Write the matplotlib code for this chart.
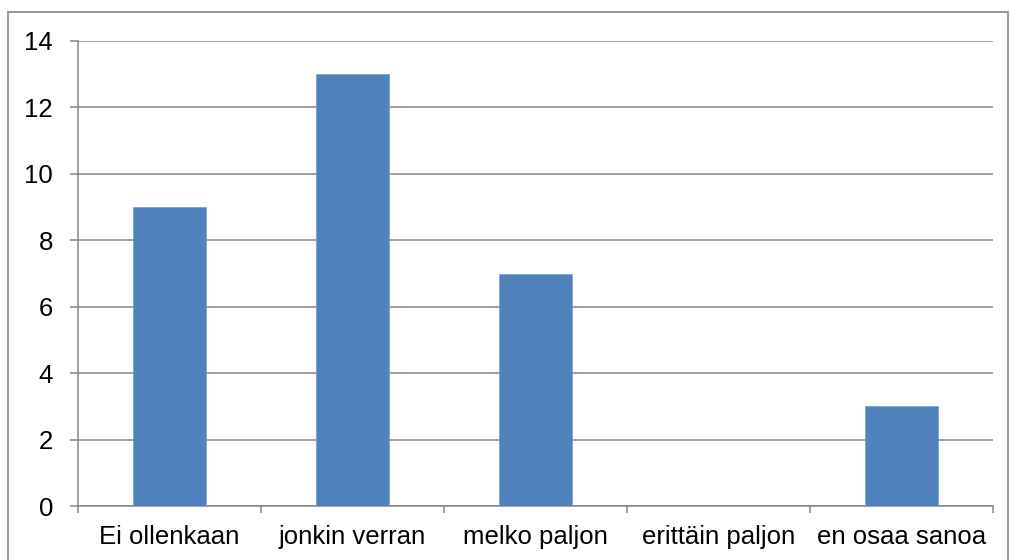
import numpy as np
import matplotlib
matplotlib.use('Agg')
from matplotlib import pyplot as plt
from matplotlib.patches import Rectangle

# Vastaukset ja lukumaarat
kategoriat = ['Ei ollenkaan', 'jonkin verran', 'melko paljon', 'erittäin paljon', 'en osaa sanoa']
lukumaarat = [9, 13, 7, 0, 3]
y_tikit = [0, 2, 4, 6, 8, 10, 12, 14]

sininen = '#4F81BD'
harmaa = '#868686'

plt.rcParams['font.family'] = ['Liberation Sans', 'DejaVu Sans']

W, H = 1010, 560
fig = plt.figure(figsize=(W / 100, H / 100), dpi=100)
ax = fig.add_axes([78 / W, (H - 506) / H, (993 - 78) / W, (506 - 41) / H])

# Kaavion ulkoreunus
fig.patches.append(Rectangle((8 / W, -0.1), 1000 / W, 1.1 - 12 / H,
                             transform=fig.transFigure, fill=False,
                             edgecolor=harmaa, linewidth=1.2))

x = np.arange(len(kategoriat))
ax.bar(x, lukumaarat, width=0.4, color=sininen, edgecolor='#7FA1CE',
       linewidth=0.6, zorder=3)

ax.set_xlim(-0.5, len(kategoriat) - 0.5)
ax.set_ylim(0, 14)
ax.set_yticks(y_tikit)
ax.set_yticklabels([str(v) for v in y_tikit], fontsize=18.5)
ax.yaxis.grid(True, color=harmaa, linewidth=1.1, zorder=0)
ax.set_axisbelow(True)

# Luokkien rajat alareunaan
ax.set_xticks(np.arange(len(kategoriat) + 1) - 0.5)
ax.set_xticklabels([])
ax.set_xticks(x, minor=True)
ax.set_xticklabels(kategoriat, minor=True, fontsize=18.5)
ax.tick_params(axis='x', which='major', length=5, width=1.1, color=harmaa, direction='out')
ax.tick_params(axis='x', which='minor', length=0, pad=14)
ax.tick_params(axis='y', length=6, width=1.1, color=harmaa, pad=12)

for s in ['top', 'right']:
    ax.spines[s].set_visible(False)
for s in ['left', 'bottom']:
    ax.spines[s].set_color(harmaa)
    ax.spines[s].set_linewidth(1.1)

fig.savefig('out.png', dpi=100)
